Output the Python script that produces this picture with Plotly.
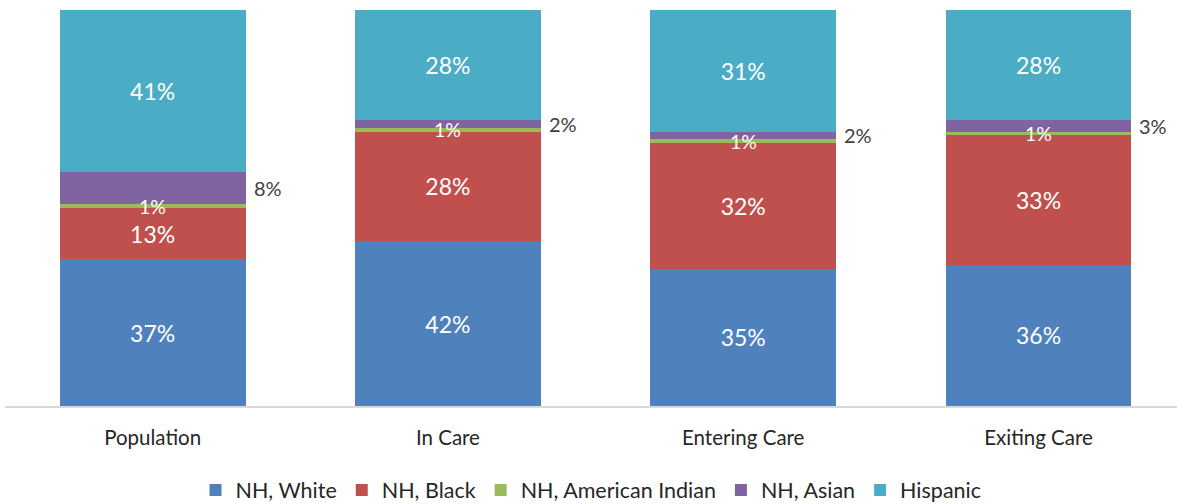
import plotly.graph_objects as go

categories = ["Population", "In Care", "Entering Care", "Exiting Care"]
series_names = ["NH, White", "NH, Black", "NH, American Indian", "NH, Asian", "Hispanic"]
nh_white = [37, 42, 35, 36]
nh_black = [13, 28, 32, 33]
nh_american_indian = [1, 1, 1, 1]
nh_asian = [8, 2, 2, 3]
hispanic = [41, 28, 31, 28]
colors = ["#4F81BD", "#C0504D", "#9BBB59", "#8064A2", "#4BACC6"]

series = [nh_white, nh_black, nh_american_indian, nh_asian, hispanic]
FONT = "Lato"
BAR_FRAC = 0.629

fig = go.Figure()
for name, vals, col in zip(series_names, series, colors):
    inside = name not in ("NH, Asian", "NH, American Indian")
    fig.add_trace(go.Bar(
        x=categories, y=vals, name=name,
        marker=dict(color=col, line=dict(width=0)),
        text=[f"{v}%" for v in vals], textposition="inside" if inside else "none",
        insidetextanchor="middle", constraintext="none", textangle=0,
        textfont=dict(family=FONT, size=23, color="white"),
        hoverinfo="skip",
    ))

for i, cat in enumerate(categories):
    total = sum(s[i] for s in series)
    wb = nh_white[i] + nh_black[i]
    y_ai = (wb + nh_american_indian[i] / 2) / total * 100
    fig.add_annotation(x=i, y=y_ai, xref="x", yref="y",
                       text=f"{nh_american_indian[i]}%", showarrow=False,
                       xanchor="center", yanchor="middle",
                       font=dict(family=FONT, size=19.5, color="white"))
    y_as = (wb + nh_american_indian[i] + nh_asian[i] / 2) / total * 100
    fig.add_annotation(x=i + BAR_FRAC / 2, y=y_as, xref="x", yref="y",
                       text=f"{nh_asian[i]}%", showarrow=False,
                       xanchor="left", yanchor="middle", xshift=6,
                       font=dict(family=FONT, size=20, color="#404040"))

fig.update_layout(
    width=1177, height=504,
    barmode="stack", barnorm="percent", bargap=1 - BAR_FRAC,
    plot_bgcolor="white", paper_bgcolor="white",
    margin=dict(l=5, r=0, t=10, b=98, autoexpand=False),
    font=dict(family=FONT, size=20, color="#262626"),
    xaxis=dict(range=[-0.5, 3.469], showline=True, linecolor="#D9D9D9", linewidth=1.5,
               ticks="", ticklabelstandoff=13, tickfont=dict(size=20.5, color="#262626"),
               showgrid=False, fixedrange=True, automargin=False),
    yaxis=dict(range=[0, 100], visible=False, showgrid=False, fixedrange=True),
    legend=dict(orientation="h", x=0.5, xanchor="center", y=-0.212, yanchor="middle",
                font=dict(family=FONT, size=21.5, color="#262626"),
                traceorder="normal", itemwidth=30),
    showlegend=True,
)

fig.write_html("out.html")
